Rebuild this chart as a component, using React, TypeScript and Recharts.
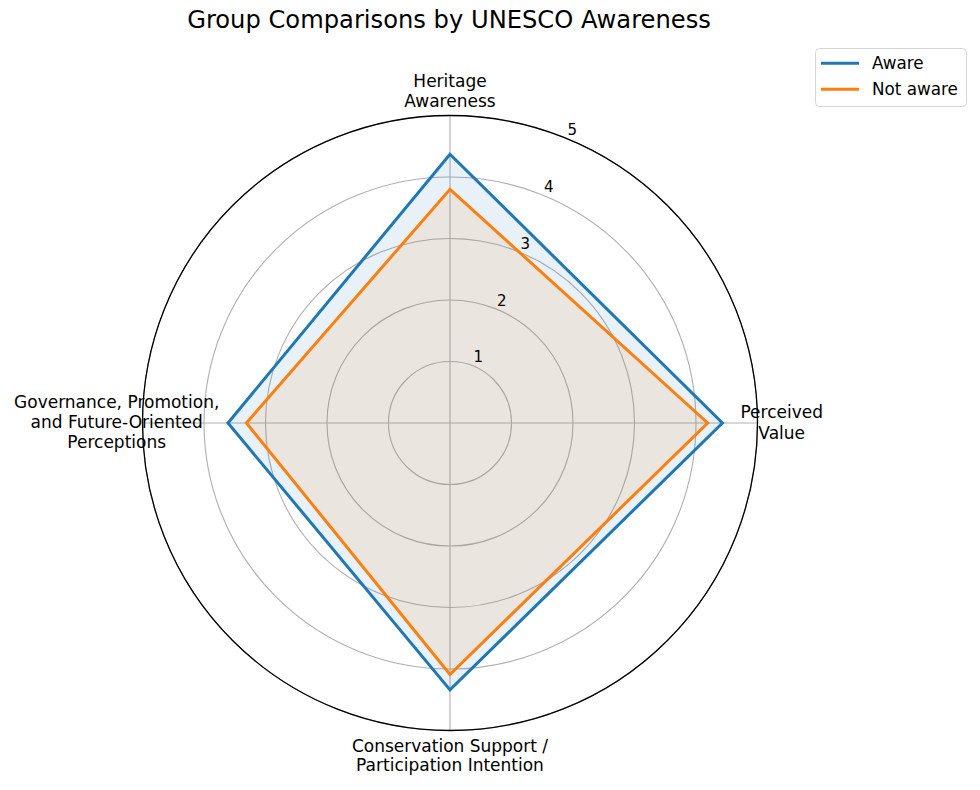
import React from 'react';
import { RadarChart, Radar, PolarGrid, PolarAngleAxis, PolarRadiusAxis, Legend } from 'recharts';

// ---- data ----
const categories = [
  'Heritage\nAwareness',
  'Perceived\nValue',
  'Conservation Support /\nParticipation Intention',
  'Governance, Promotion,\nand Future-Oriented\nPerceptions',
];
const awareValues = [4.37, 4.43, 4.34, 3.61];
const notAwareValues = [3.8, 4.19, 4.09, 3.31];
const radiusTicks = [1, 2, 3, 4, 5];
const seriesNames = ['Aware', 'Not aware'];
const titleText = 'Group Comparisons by UNESCO Awareness';

const data = categories.map((c, i) => ({
  subject: c,
  aware: awareValues[i],
  notAware: notAwareValues[i],
}));

const FONT = '"DejaVu Sans", Verdana, sans-serif';
const BLUE = '#1f77b4';
const ORANGE = '#ff7f0e';
const OUTER_R = 307.5;

// per-label text layout (relative to the angle-axis tick anchor)
const labelLayout = [
  { dx: 0, baselines: [-20.5, -1] },
  { dx: 16.2, baselines: [-4.7, 15.5] },
  { dx: 0, baselines: [13.2, 32.7] },
  { dx: -17.8, baselines: [-14.7, 5.3, 25.3] },
];

const AngleTick = (props: any) => {
  const { x, y, payload, index } = props;
  const lines = String(payload.value).split('\n');
  const lay = labelLayout[index] || labelLayout[0];
  return (
    <text
      x={x + lay.dx}
      y={y}
      textAnchor="middle"
      fontFamily={FONT}
      fontSize={17}
      fill="#000"
    >
      {lines.map((ln, i) => (
        <tspan key={i} x={x + lay.dx} y={y + lay.baselines[i]}>
          {ln}
        </tspan>
      ))}
    </text>
  );
};

const RadiusTick = (props: any) => {
  const { x, y, payload } = props;
  return (
    <text
      x={x + 4.7}
      y={y - 8.7}
      textAnchor="middle"
      dominantBaseline="central"
      fontFamily={FONT}
      fontSize={15}
      fill="#000"
    >
      {payload.value}
    </text>
  );
};

const renderLegend = (props: any) => {
  const payload = props.payload || [];
  return (
    <svg width={154} height={61} style={{ display: 'block' }}>
      <rect x={1.5} y={1.5} width={151} height={58} rx={4} ry={4} fill="#fff" fillOpacity={0.8} stroke="#d5d5d5" strokeWidth={1} />
      {payload.map((entry: any, i: number) => {
        const yy = 16.3 + i * 26;
        return (
          <g key={i}>
            <line x1={7} x2={45} y1={yy} y2={yy} stroke={entry.color} strokeWidth={3} />
            <text x={58} y={yy} dominantBaseline="central" fontFamily={FONT} fontSize={16.8} fill="#000">
              {entry.value}
            </text>
          </g>
        );
      })}
    </svg>
  );
};

export default function App() {
  return (
    <div style={{ position: 'absolute', left: 0, top: 0, width: 980, height: 790, background: '#fff' }}>
      <RadarChart
        width={980}
        height={790}
        data={data}
        cx={450}
        cy={423}
        outerRadius={OUTER_R}
        startAngle={90}
        endAngle={-270}
        margin={{ top: 0, right: 0, bottom: 0, left: 0 }}
      >
        <PolarGrid gridType="circle" stroke="#b0b0b0" strokeWidth={1.1} />
        <PolarAngleAxis dataKey="subject" tick={<AngleTick />} tickLine={false} axisLine={false} />
        <Radar
          name={seriesNames[0]}
          dataKey="aware"
          stroke={BLUE}
          strokeWidth={3}
          fill={BLUE}
          fillOpacity={0.1}
          dot={false}
          isAnimationActive={false}
        />
        <Radar
          name={seriesNames[1]}
          dataKey="notAware"
          stroke={ORANGE}
          strokeWidth={3}
          fill={ORANGE}
          fillOpacity={0.1}
          dot={false}
          isAnimationActive={false}
        />
        <PolarGrid gridType="circle" polarRadius={[OUTER_R]} radialLines={false} stroke="#000" strokeWidth={1.3} />
        <PolarRadiusAxis
          angle={67.5}
          domain={[0, 5]}
          ticks={radiusTicks as any}
          tickCount={6}
          axisLine={false}
          tickLine={false}
          tick={<RadiusTick />}
        />
        <Legend
          layout="horizontal"
          align="center"
          verticalAlign="middle"
          content={renderLegend}
          wrapperStyle={{ left: 814, top: 47, width: 154, height: 61 }}
        />
      </RadarChart>
      <svg
        width={980}
        height={44}
        style={{ position: 'absolute', left: 0, top: 0, pointerEvents: 'none' }}
      >
        <text x={449} y={28} textAnchor="middle" fontFamily={FONT} fontSize={24.2} fill="#000">
          {titleText}
        </text>
      </svg>
    </div>
  );
}
